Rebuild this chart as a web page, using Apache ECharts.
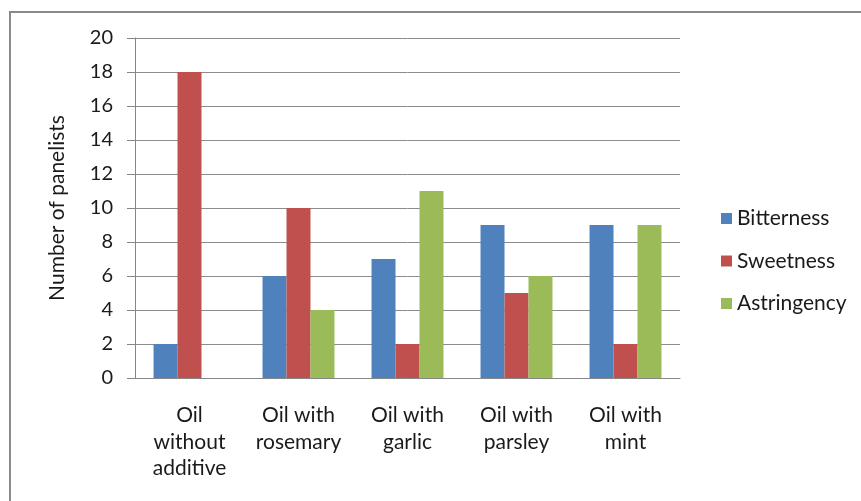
<!DOCTYPE html>
<html>
<head>
<meta charset="utf-8">
<script src="https://cdn.jsdelivr.net/npm/echarts@6/dist/echarts.min.js"></script>
<style>
  html, body { margin: 0; padding: 0; background: #fff; }
  #chart { width: 861px; height: 501px; }
</style>
</head>
<body>
<div id="chart"></div>
<script>
// Panel counts per oil sample and sensory attribute
const categories = ['Oil\nwithout\nadditive', 'Oil with\nrosemary', 'Oil with\ngarlic', 'Oil with\nparsley', 'Oil with\nmint'];
const bitterness = [2, 6, 7, 9, 9];
const sweetness = [18, 10, 2, 5, 2];
const astringency = [0, 4, 11, 6, 9];
const seriesNames = ['Bitterness', 'Sweetness', 'Astringency'];
const seriesColors = ['#4f81bd', '#c0504d', '#9bbb59'];

const font = 'Lato, "Open Sans", sans-serif';
const textColor = '#1a1a1a';
const chart = echarts.init(document.getElementById('chart'), null, { renderer: 'canvas' });

const barSeries = [bitterness, sweetness, astringency].map((values, i) => ({
  name: seriesNames[i],
  type: 'bar',
  data: values,
  barGap: '0%',
  barCategoryGap: '34%',
  itemStyle: { color: seriesColors[i] }
}));

chart.setOption({
  animation: false,
  textStyle: { fontFamily: font },
  graphic: [{
    type: 'rect',
    shape: { x: 10, y: 12, width: 900, height: 600 },
    style: { fill: 'none', stroke: '#8a8a8a', lineWidth: 2 },
    silent: true
  }],
  grid: { left: 135, right: 181, top: 38, bottom: 123 },
  legend: {
    orient: 'vertical',
    left: 716,
    top: 202,
    itemWidth: 11,
    itemHeight: 11,
    itemGap: 19.5,
    icon: 'rect',
    data: seriesNames,
    textStyle: { fontFamily: font, fontSize: 21, color: textColor, lineHeight: 23, padding: [0, 0, 0, 0] }
  },
  xAxis: {
    type: 'category',
    data: categories,
    axisLine: { lineStyle: { color: '#868686', width: 1 } },
    axisTick: { show: false },
    axisLabel: {
      interval: 0,
      margin: 24,
      fontSize: 21,
      lineHeight: 26.5,
      color: textColor,
      fontFamily: font
    }
  },
  yAxis: {
    type: 'value',
    min: 0,
    max: 20,
    interval: 2,
    name: 'Number of panelists',
    nameLocation: 'middle',
    nameGap: 67,
    nameRotate: 90,
    nameTextStyle: { fontSize: 21, color: textColor, fontFamily: font },
    axisLine: { show: true, lineStyle: { color: '#868686', width: 1 } },
    axisTick: { show: true, length: 8, lineStyle: { color: '#868686' } },
    axisLabel: { fontSize: 20, color: textColor, margin: 22, fontFamily: font },
    splitLine: { lineStyle: { color: '#8c8c8c', width: 1 } }
  },
  series: barSeries
});
</script>
</body>
</html>
